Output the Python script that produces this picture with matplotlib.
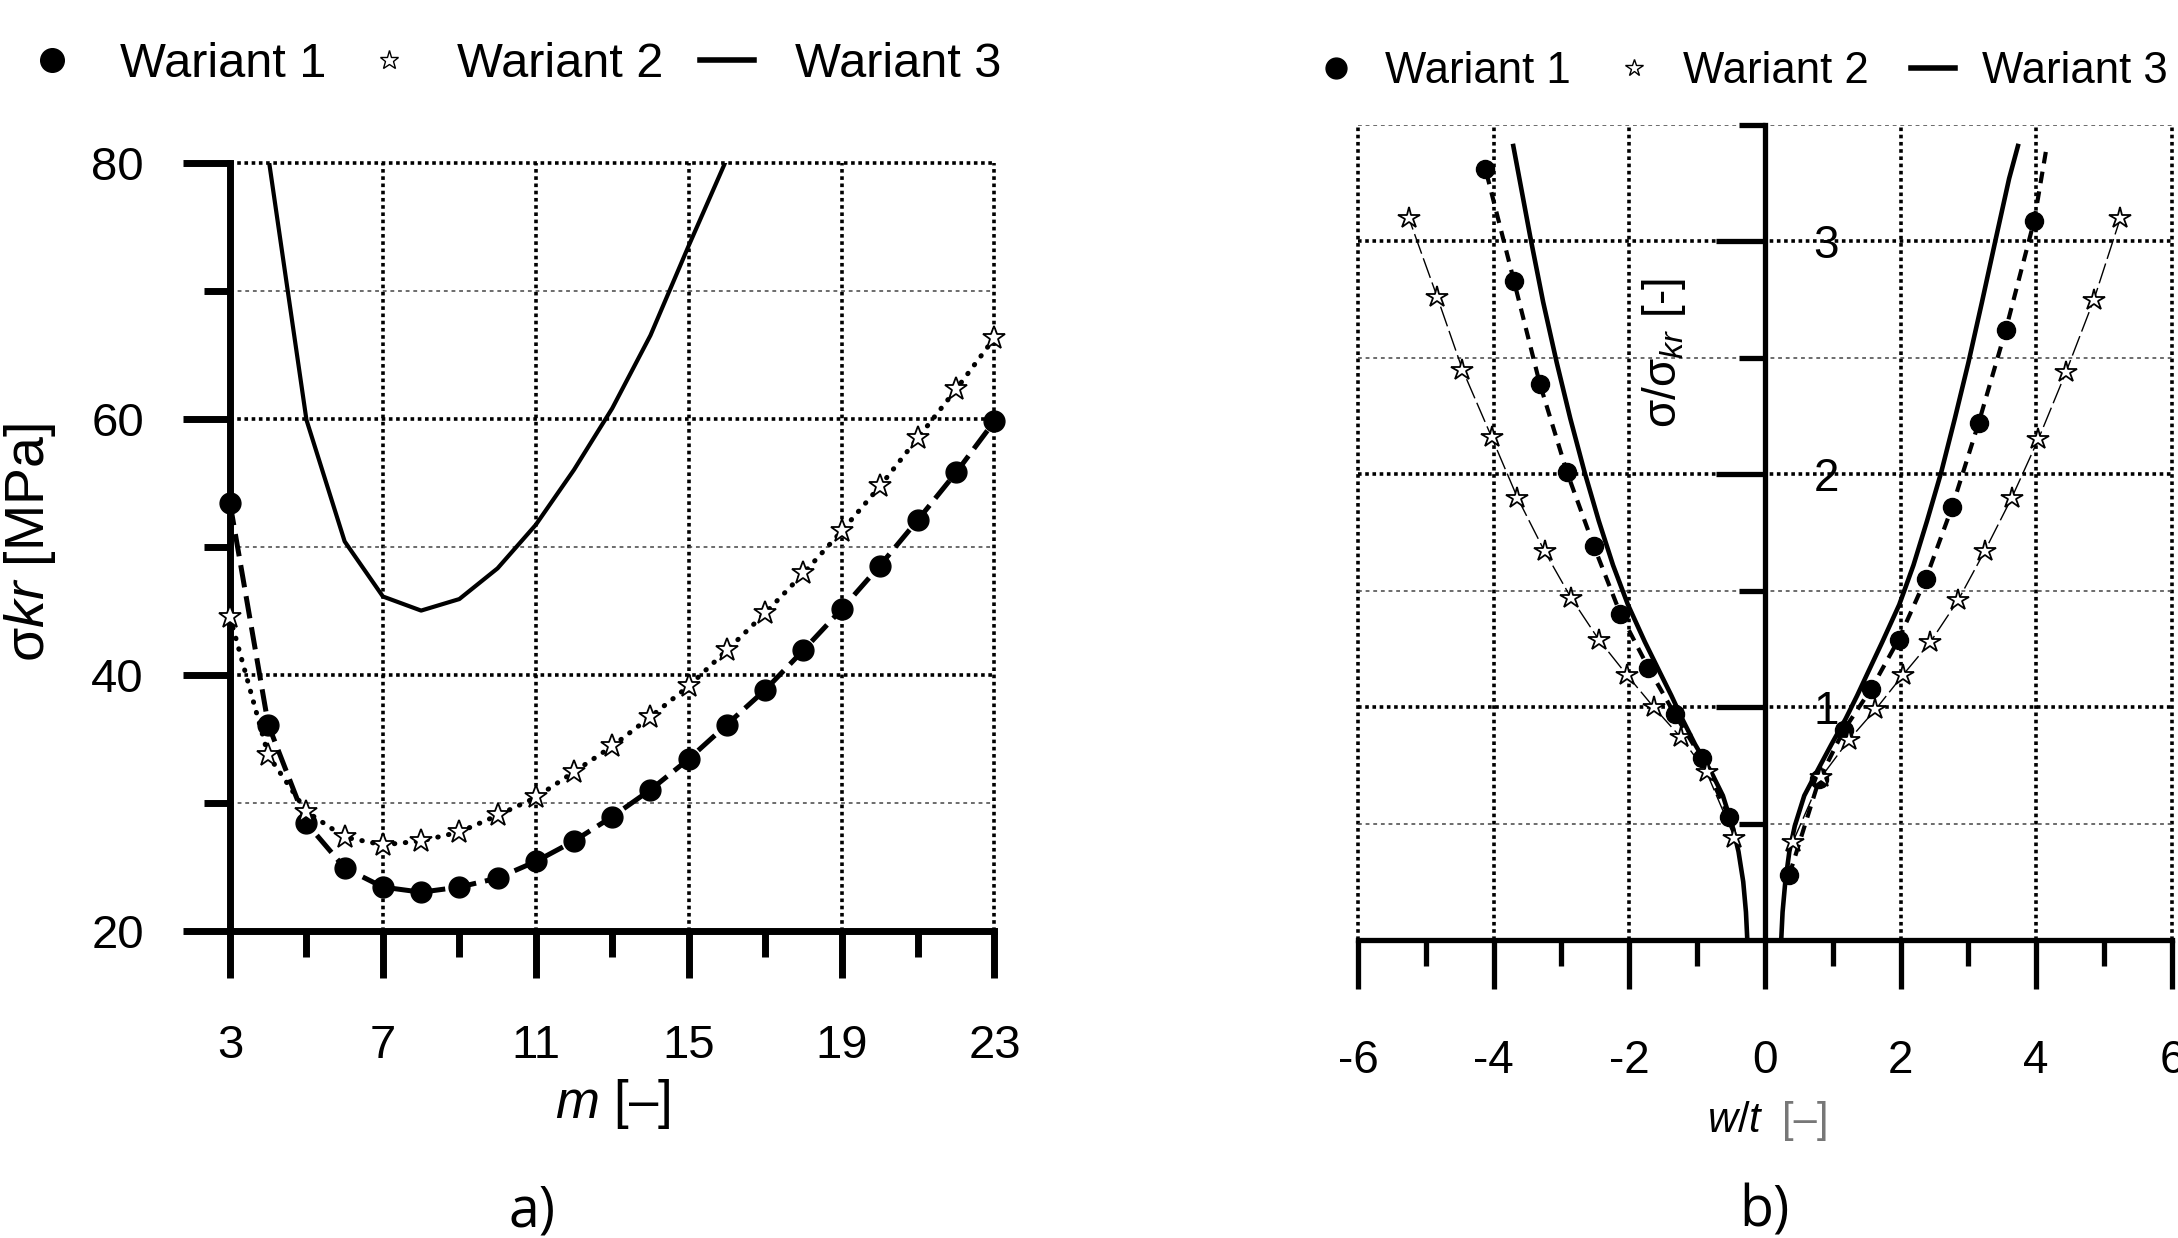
import numpy as np
import matplotlib.pyplot as plt
from matplotlib.lines import Line2D
from matplotlib.ticker import FixedLocator

plt.rcParams['font.family'] = ['Liberation Sans', 'DejaVu Sans']
plt.rcParams['mathtext.fontset'] = 'custom'
plt.rcParams['mathtext.it'] = 'Liberation Sans:italic'
plt.rcParams['mathtext.rm'] = 'Liberation Sans'
plt.rcParams['axes.unicode_minus'] = False

# ---- panel a) : critical stress vs number of half-waves m
m = np.arange(3, 24)
w1_a = [53.4, 36.1, 28.4, 24.9, 23.4, 23.0, 23.4, 24.1, 25.4, 27.0, 28.9,
        31.0, 33.4, 36.1, 38.8, 41.9, 45.1, 48.5, 52.1, 55.8, 59.8]
w2_a = [44.5, 33.7, 29.3, 27.3, 26.7, 27.0, 27.7, 29.0, 30.4, 32.4, 34.4,
        36.7, 39.1, 41.9, 44.8, 47.9, 51.2, 54.7, 58.5, 62.3, 66.3]
m3 = np.arange(4, 17)
w3_a = [80.5, 59.9, 50.4, 46.1, 45.0, 45.9, 48.3, 51.7, 56.0, 60.8, 66.5, 73.5, 80.3]
a_xticks = [3, 7, 11, 15, 19, 23]
a_xminor = [5, 9, 13, 17, 21]
a_yticks = [20, 40, 60, 80]
a_yminor = [30, 50, 70]

# ---- panel b) : sigma/sigma_kr vs w/t
w1_b_lx = [-0.53, -0.93, -1.33, -1.72, -2.13, -2.52, -2.92, -3.32, -3.70, -4.12]
w1_b_ly = [0.53, 0.78, 0.97, 1.17, 1.40, 1.69, 2.01, 2.39, 2.83, 3.31]
w1_b_rx = [0.36, 0.80, 1.16, 1.57, 1.97, 2.37, 2.76, 3.15, 3.55, 3.97]
w1_b_ry = [0.28, 0.69, 0.90, 1.08, 1.29, 1.55, 1.86, 2.22, 2.62, 3.09]
w1_b_tail_x = [4.15]
w1_b_tail_y = [3.40]

w2_b_lx = [-0.45, -0.86, -1.24, -1.64, -2.04, -2.45, -2.86, -3.25, -3.65,
           -4.03, -4.46, -4.83, -5.25]
w2_b_ly = [0.44, 0.72, 0.87, 1.00, 1.14, 1.29, 1.47, 1.67, 1.90, 2.16, 2.45, 2.76, 3.10]
w2_b_rx = [0.41, 0.83, 1.24, 1.63, 2.04, 2.44, 2.85, 3.24, 3.64, 4.03, 4.44, 4.85, 5.24]
w2_b_ry = [0.42, 0.70, 0.86, 0.99, 1.14, 1.28, 1.46, 1.67, 1.90, 2.15, 2.44, 2.75, 3.10]

w3_b_y = [0.0, 0.12, 0.25, 0.38, 0.49, 0.62, 0.72, 0.84, 0.95, 1.05, 1.15,
          1.28, 1.44, 1.61, 1.80, 2.01, 2.24, 2.48, 2.74, 3.02, 3.27, 3.41]
w3_b_rx = [0.24, 0.26, 0.30, 0.36, 0.44, 0.58, 0.76, 0.98, 1.19, 1.36, 1.52,
           1.73, 1.98, 2.19, 2.39, 2.60, 2.80, 3.00, 3.20, 3.41, 3.60, 3.73]
w3_b_lx = [-0.26, -0.28, -0.32, -0.39, -0.48, -0.62, -0.79, -1.03, -1.22, -1.38, -1.55,
           -1.77, -2.02, -2.24, -2.45, -2.66, -2.87, -3.07, -3.27, -3.46, -3.62, -3.71]
b_xticks = [-6, -4, -2, 0, 2, 4, 6]
b_xminor = [-5, -3, -1, 1, 3, 5]
b_yticks = [1, 2, 3]
b_yminor = [0.5, 1.5, 2.5, 3.5]

labels = ['Wariant 1', 'Wariant 2', 'Wariant 3']

heavy_dot = dict(color='black', lw=2.6, linestyle=(0, (1, 1.0)))
fine_dot = dict(color='#444444', lw=1.1, linestyle=(0, (2.5, 2.5)))

fig = plt.figure(figsize=(21.78, 12.38), dpi=100)

# ================= panel a
axa = fig.add_axes([0.1056, 0.2483, 0.3510, 0.6204])
axa.plot(m, w1_a, color='black', lw=3.6, dashes=(4.5, 1.8), marker='o', ms=15,
         clip_on=False, zorder=4)
axa.plot(m, w2_a, color='black', lw=3.6, linestyle=(0, (0.1, 2.1)),
         dash_capstyle='round', marker='*', ms=17, mfc='white', mec='black',
         mew=1.3, clip_on=False, zorder=4)
axa.plot(m3, w3_a, color='black', lw=3, zorder=3)
axa.set_xlim(3, 23)
axa.set_ylim(20, 80)
axa.xaxis.set_major_locator(FixedLocator(a_xticks))
axa.xaxis.set_minor_locator(FixedLocator(a_xminor))
axa.yaxis.set_major_locator(FixedLocator(a_yticks))
axa.yaxis.set_minor_locator(FixedLocator(a_yminor))
for s in ['top', 'right']:
    axa.spines[s].set_visible(False)
for s in ['left', 'bottom']:
    axa.spines[s].set_linewidth(5)
    axa.spines[s].set_capstyle('projecting')
axa.tick_params(which='both', direction='out', width=5, labelsize=34)
axa.tick_params(which='major', length=34)
axa.tick_params(which='minor', length=19)
axa.tick_params(axis='x', which='major', pad=33)
axa.tick_params(axis='y', which='major', pad=28)
axa.grid(True, which='major', **heavy_dot)
axa.yaxis.grid(True, which='minor', **fine_dot)
axa.set_axisbelow(True)
axa.set_xlabel(r'$\it{m}$ [–]', fontsize=38)
axa.xaxis.set_label_coords(0.5, -0.19)
axa.set_ylabel(r'σ$\it{kr}$ [MPa]', fontsize=40)
axa.yaxis.set_label_coords(-0.262, 0.505)
axa.yaxis.label.set_va('center')

# ================= panel b
axb = fig.add_axes([0.6235, 0.2407, 0.3737, 0.6583])
axb.plot(w1_b_lx, w1_b_ly, color='black', lw=3.0, dashes=(2.8, 2.0),
         marker='o', ms=13, zorder=4)
axb.plot(w1_b_rx + w1_b_tail_x, w1_b_ry + w1_b_tail_y, color='black', lw=3.0,
         dashes=(2.8, 2.0), zorder=4)
axb.plot(w1_b_rx, w1_b_ry, ls='none', color='black', marker='o', ms=13, zorder=4)
for xs, ys in [(w2_b_lx, w2_b_ly), (w2_b_rx, w2_b_ry)]:
    axb.plot(xs, ys, color='black', lw=1.0, dashes=(15, 3.5), marker='*', ms=16,
             mfc='white', mec='black', mew=1.3, zorder=4)
for xs in [w3_b_lx, w3_b_rx]:
    axb.plot(xs, w3_b_y, color='black', lw=3.3, zorder=3)
axb.set_xlim(-6, 6)
axb.set_ylim(0, 3.5)
axb.xaxis.set_major_locator(FixedLocator(b_xticks))
axb.xaxis.set_minor_locator(FixedLocator(b_xminor))
axb.yaxis.set_major_locator(FixedLocator(b_yticks))
axb.yaxis.set_minor_locator(FixedLocator(b_yminor))
axb.spines['top'].set_visible(False)
axb.spines['left'].set_position(('data', 0))
axb.spines['right'].set_position(('data', 0))
axb.spines['right'].set_visible(False)
for s in ['left', 'bottom']:
    axb.spines[s].set_linewidth(3.8)
    axb.spines[s].set_capstyle('projecting')
axb.tick_params(which='both', direction='out', width=3.8, labelsize=33)
axb.tick_params(which='major', length=35)
axb.tick_params(which='minor', length=19)
axb.tick_params(axis='x', which='major', pad=36)
axb.tick_params(axis='y', which='both', left=True, right=False,
                labelleft=False, labelright=True, pad=0)
axb.grid(True, which='major', **heavy_dot)
axb.yaxis.grid(True, which='minor', **fine_dot)
axb.set_axisbelow(True)
axb.set_ylabel(r'σ/σ$_{\it{kr}}$ [-]', fontsize=33)
axb.yaxis.set_label_coords(0.376, 0.72)
axb.yaxis.label.set_va('center')
axb.text(0.499, -0.236, r'$\it{w/t}$', fontsize=30, ha='right', va='baseline',
         transform=axb.transAxes)
axb.text(0.521, -0.236, '[–]', fontsize=30, ha='left', va='baseline',
         color='#777777', transform=axb.transAxes)

for ax in (axa, axb):
    for gl in ax.get_xgridlines() + ax.get_ygridlines():
        gl.set_clip_on(False)

# ================= legends
def handles(ms_dot, ms_star, lw):
    return [Line2D([], [], color='black', marker='o', ls='none', ms=ms_dot),
            Line2D([], [], color='black', marker='*', ls='none', ms=ms_star,
                   mfc='white', mec='black', mew=1.0),
            Line2D([], [], color='black', lw=lw)]

fig.legend(handles(17, 14, 4), labels, loc='center left',
           bbox_to_anchor=(0.0115, 0.948), ncol=3, frameon=False, fontsize=35,
           handlelength=1.1, handletextpad=0.85, columnspacing=0.75,
           borderpad=0, borderaxespad=0)
fig.legend(handles(15, 13, 4), labels, loc='center left',
           bbox_to_anchor=(0.6035, 0.942), ncol=3, frameon=False, fontsize=31.5,
           handlelength=1.0, handletextpad=0.62, columnspacing=0.95,
           borderpad=0, borderaxespad=0)

fig.text(0.2443, 0.021, 'a)', fontsize=40, family='Open Sans', ha='center', va='center')
fig.text(0.81, 0.021, 'b)', fontsize=40, family='Open Sans', ha='center', va='center')

fig.savefig('out.png', dpi=100)
